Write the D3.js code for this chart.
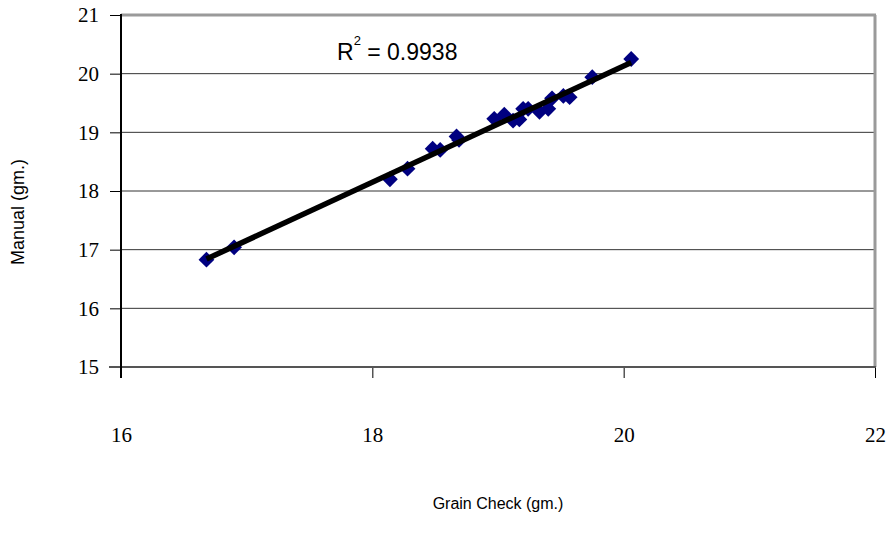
<!DOCTYPE html>
<html>
<head>
<meta charset="utf-8">
<script src="https://cdn.jsdelivr.net/npm/d3@7"></script>
<style>
  body { margin: 0; background: #fff; }
  svg { display: block; }
</style>
</head>
<body>
<svg id="chart" width="893" height="542"></svg>
<script>
// ====== DATA ======
const grainCheck = [16.68, 16.90, 18.14, 18.28, 18.48, 18.54, 18.67, 18.69, 18.97, 19.05, 19.12, 19.17, 19.20, 19.24, 19.33, 19.40, 19.43, 19.52, 19.57, 19.75, 20.06];
const manual =     [16.83, 17.04, 18.20, 18.38, 18.72, 18.70, 18.93, 18.87, 19.23, 19.30, 19.20, 19.22, 19.40, 19.40, 19.35, 19.40, 19.58, 19.62, 19.60, 19.94, 20.25];
const xTicks = [16, 18, 20, 22];
const yTicks = [15, 16, 17, 18, 19, 20, 21];
const r2Label = '0.9938';

const svg = d3.select('#chart');
const padL = 121, padR = 875, padT = 15, padB = 367;
const serif = "'Liberation Serif', 'Times New Roman', serif";
const sans = "'Liberation Sans', Arial, sans-serif";

const x = d3.scaleLinear().domain([16, 22]).range([padL, padR]);
const y = d3.scaleLinear().domain([15, 21]).range([padB, padT]);

// gridlines
svg.append('g')
  .selectAll('line')
  .data(yTicks.slice(1, -1))
  .enter().append('line')
  .attr('x1', padL).attr('x2', padR)
  .attr('y1', d => y(d)).attr('y2', d => y(d))
  .attr('stroke', '#333').attr('stroke-width', 1);

// frame top / right (grey)
svg.append('line').attr('x1', padL).attr('x2', padR + 1).attr('y1', padT).attr('y2', padT)
  .attr('stroke', '#9a9a9a').attr('stroke-width', 3);
svg.append('line').attr('x1', padR).attr('x2', padR).attr('y1', padT).attr('y2', padB)
  .attr('stroke', '#9a9a9a').attr('stroke-width', 3);

// axes
const yAxis = d3.axisLeft(y).tickValues(yTicks).tickSize(11).tickFormat(d3.format('d'));
const xAxis = d3.axisBottom(x).tickValues(xTicks).tickSize(11).tickFormat(d3.format('d'));

const gy = svg.append('g').attr('transform', `translate(${padL},0)`).call(yAxis);
gy.select('.domain').remove();
gy.selectAll('.tick line').attr('stroke', '#000').attr('stroke-width', 1);
gy.selectAll('.tick text')
  .attr('x', -22)
  .style('font-family', serif).style('font-size', '21px').attr('fill', '#000');

const gx = svg.append('g').attr('transform', `translate(0,${padB})`).call(xAxis);
gx.select('.domain').remove();
gx.selectAll('.tick line').attr('stroke', '#000').attr('stroke-width', 1);
gx.selectAll('.tick text')
  .attr('y', 60)
  .style('font-family', serif).style('font-size', '21px').attr('fill', '#000');

// bottom axis line and left axis line
svg.append('line').attr('x1', padL - 12).attr('x2', padR + 1).attr('y1', padB).attr('y2', padB)
  .attr('stroke', '#555').attr('stroke-width', 2);
svg.append('line').attr('x1', padL).attr('x2', padL).attr('y1', padT - 1).attr('y2', padB + 11)
  .attr('stroke', '#000').attr('stroke-width', 2);

// points
const pts = grainCheck.map((g, i) => ({ gx: g, my: manual[i] }));
svg.append('g')
  .selectAll('path')
  .data(pts)
  .enter().append('path')
  .attr('d', d3.symbol().type(d3.symbolSquare).size(125))
  .attr('transform', d => `translate(${x(d.gx)},${y(d.my)}) rotate(45)`)
  .attr('fill', '#000080');

// linear trendline (least squares)
const mx = d3.mean(grainCheck), my = d3.mean(manual);
const slope = d3.sum(pts, d => (d.gx - mx) * (d.my - my)) / d3.sum(pts, d => (d.gx - mx) ** 2);
const icpt = my - slope * mx;
const xExt = d3.extent(grainCheck);
svg.append('line')
  .attr('x1', x(xExt[0])).attr('y1', y(icpt + slope * xExt[0]))
  .attr('x2', x(xExt[1])).attr('y2', y(icpt + slope * xExt[1]))
  .attr('stroke', '#000').attr('stroke-width', 5.5);

// R² label
const rt = svg.append('text')
  .attr('x', 337).attr('y', 60)
  .style('font-family', sans).style('font-size', '23px').attr('fill', '#000');
rt.append('tspan').text('R');
rt.append('tspan').attr('dy', -15).style('font-size', '13px').text('2');
rt.append('tspan').attr('dy', 15).text(' = ' + r2Label);

// axis titles
svg.append('text')
  .attr('x', 498).attr('y', 509)
  .attr('text-anchor', 'middle')
  .style('font-family', sans).style('font-size', '16px').attr('fill', '#000')
  .text('Grain Check (gm.)');
svg.append('text')
  .attr('transform', 'translate(24,212) rotate(-90)')
  .attr('text-anchor', 'middle')
  .style('font-family', sans).style('font-size', '18px').attr('fill', '#000')
  .text('Manual (gm.)');
</script>
</body>
</html>
